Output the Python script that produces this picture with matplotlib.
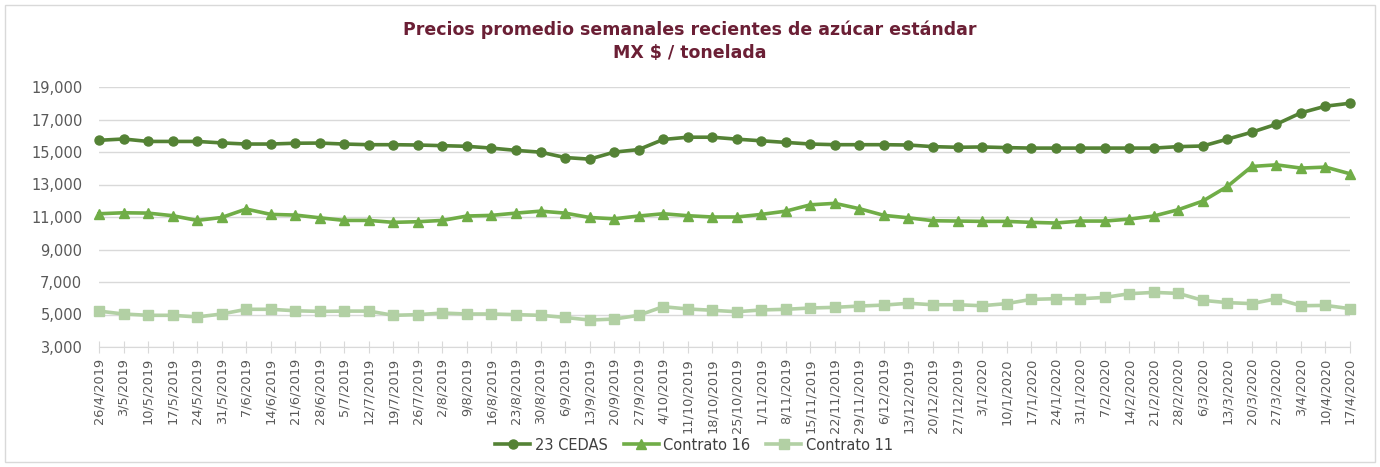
import numpy as np
import matplotlib
matplotlib.use("Agg")
import matplotlib.pyplot as plt
from matplotlib.patches import Rectangle

fechas = ["26/4/2019", "3/5/2019", "10/5/2019", "17/5/2019", "24/5/2019", "31/5/2019",
          "7/6/2019", "14/6/2019", "21/6/2019", "28/6/2019", "5/7/2019", "12/7/2019",
          "19/7/2019", "26/7/2019", "2/8/2019", "9/8/2019", "16/8/2019", "23/8/2019",
          "30/8/2019", "6/9/2019", "13/9/2019", "20/9/2019", "27/9/2019", "4/10/2019",
          "11/10/2019", "18/10/2019", "25/10/2019", "1/11/2019", "8/11/2019", "15/11/2019",
          "22/11/2019", "29/11/2019", "6/12/2019", "13/12/2019", "20/12/2019", "27/12/2019",
          "3/1/2020", "10/1/2020", "17/1/2020", "24/1/2020", "31/1/2020", "7/2/2020",
          "14/2/2020", "21/2/2020", "28/2/2020", "6/3/2020", "13/3/2020", "20/3/2020",
          "27/3/2020", "3/4/2020", "10/4/2020", "17/4/2020"]

cedas = [15720, 15800, 15650, 15650, 15650, 15560, 15490, 15490, 15540, 15550,
         15490, 15450, 15450, 15430, 15390, 15350, 15240, 15100, 14990, 14660,
         14560, 14990, 15150, 15770, 15910, 15910, 15790, 15690, 15590, 15490,
         15450, 15450, 15450, 15430, 15330, 15290, 15310, 15270, 15240, 15240,
         15240, 15240, 15240, 15240, 15330, 15370, 15790, 16220, 16710, 17410,
         17820, 18000]

contrato16 = [11200, 11260, 11240, 11080, 10790, 10970, 11490, 11160, 11120, 10950,
              10790, 10790, 10670, 10710, 10790, 11060, 11100, 11240, 11360, 11240,
              10970, 10890, 11060, 11200, 11080, 11000, 11000, 11160, 11360, 11750,
              11840, 11510, 11100, 10950, 10770, 10750, 10730, 10730, 10670, 10630,
              10750, 10750, 10870, 11060, 11450, 11980, 12880, 14110, 14210, 14010,
              14070, 13660]

contrato11 = [5210, 5030, 4950, 4950, 4850, 5030, 5320, 5320, 5230, 5190,
              5210, 5210, 4950, 4990, 5090, 5030, 5030, 4990, 4950, 4820,
              4660, 4720, 4950, 5480, 5340, 5260, 5170, 5280, 5320, 5400,
              5440, 5520, 5580, 5690, 5600, 5600, 5540, 5670, 5930, 5970,
              5970, 6050, 6280, 6360, 6300, 5870, 5730, 5670, 5970, 5540,
              5560, 5360]

x = np.arange(len(fechas))

fig = plt.figure(figsize=(13.8, 4.67), dpi=100)
# chart border
fig.patches.append(Rectangle((5 / 1380, 5 / 467), 1370 / 1380, 457 / 467,
                             transform=fig.transFigure, fill=False,
                             edgecolor="#D9D9D9", linewidth=1))

ax = fig.add_axes([99 / 1380, 1 - 347 / 467, 1251 / 1380, 260 / 467])

ax.plot(x, cedas, color="#548235", lw=2.6, marker="o", ms=6.5, label="23 CEDAS", clip_on=False, zorder=3)
ax.plot(x, contrato16, color="#70AD47", lw=2.6, marker="^", ms=7.5, label="Contrato 16", clip_on=False, zorder=3)
ax.plot(x, contrato11, color="#B2D0A4", lw=2.6, marker="s", ms=7, label="Contrato 11", clip_on=False, zorder=3)

ax.set_xlim(0, len(fechas) - 1)
ax.set_ylim(3000, 19000)
ax.set_yticks(np.arange(3000, 19001, 2000))
ax.yaxis.set_major_formatter(matplotlib.ticker.StrMethodFormatter("{x:,.0f}"))
ax.set_xticks(x)
ax.set_xticklabels(fechas, rotation=90)

ax.grid(axis="y", color="#D9D9D9", lw=1)
ax.set_axisbelow(True)
for s in ["top", "right", "left"]:
    ax.spines[s].set_visible(False)
ax.spines["bottom"].set_color("#D9D9D9")
ax.tick_params(axis="y", length=0, labelsize=10.5, labelcolor="#595959", pad=12)
ax.tick_params(axis="x", direction="inout", length=8, color="#D9D9D9",
               labelsize=9.3, labelcolor="#595959", pad=4)

fig.text(0.5, 1 - 30 / 467, "Precios promedio semanales recientes de azúcar estándar",
         ha="center", va="center", fontsize=12.5, fontweight="bold", color="#6B1F35")
fig.text(0.5, 1 - 53 / 467, "MX $ / tonelada",
         ha="center", va="center", fontsize=12.5, fontweight="bold", color="#6B1F35")

fig.legend(loc="center", bbox_to_anchor=(694 / 1380, 1 - 445 / 467), ncol=3,
           frameon=False, fontsize=10.5, handlelength=2.4, handletextpad=0.3,
           columnspacing=1.1, labelcolor="#404040")

fig.savefig("out.png", dpi=100)
